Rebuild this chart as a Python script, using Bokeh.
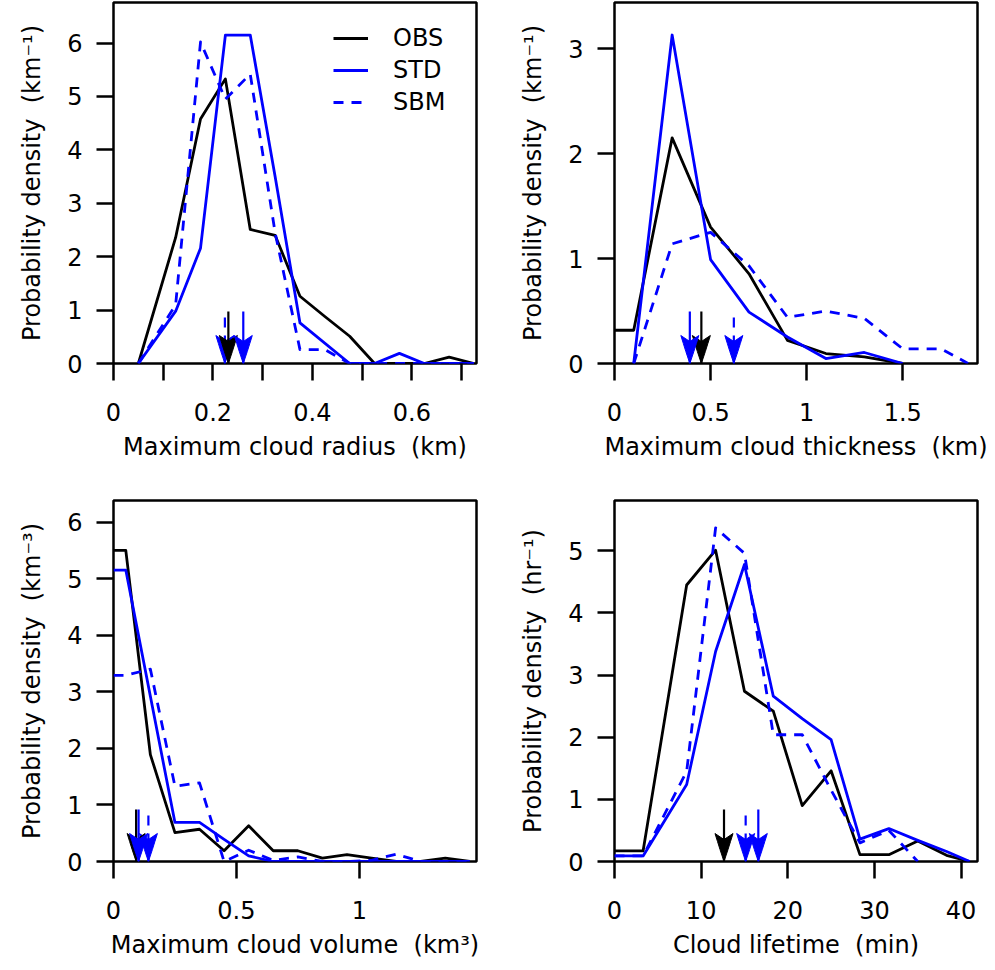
from bokeh.plotting import figure
from bokeh.layouts import column, row
from bokeh.models import Range1d, FixedTicker, Legend, LegendItem
from bokeh.embed import file_html
from bokeh.resources import INLINE

FONT = "DejaVu Sans"
BLUE = "#0000ff"
BLACK = "#000000"

# ---------------- Panel 1: maximum cloud radius ----------------
rad_obs_x = [0.05, 0.125, 0.175, 0.225, 0.275, 0.325, 0.375, 0.425, 0.475, 0.525, 0.625, 0.675, 0.725]
rad_obs_y = [0.0, 2.36, 4.58, 5.33, 2.51, 2.40, 1.26, 0.88, 0.51, 0.0, 0.0, 0.12, 0.0]
rad_std_x = [0.05, 0.125, 0.175, 0.225, 0.275, 0.325, 0.375, 0.475, 0.525, 0.575, 0.625, 0.725]
rad_std_y = [0.0, 0.98, 2.16, 6.15, 6.15, 3.5, 0.76, 0.0, 0.0, 0.19, 0.0, 0.0]
rad_sbm_x = [0.05, 0.125, 0.175, 0.225, 0.275, 0.325, 0.375, 0.425, 0.475, 0.725]
rad_sbm_y = [0.0, 1.1, 6.02, 4.95, 5.42, 2.45, 0.26, 0.26, 0.0, 0.0]
rad_mean = {"OBS": 0.231, "STD": 0.261, "SBM": 0.224}
rad_xticks = [0, 0.1, 0.2, 0.3, 0.4, 0.5, 0.6, 0.7]
rad_xlabels = ["0", "", "0.2", "", "0.4", "", "0.6", ""]
rad_yticks = [0, 1, 2, 3, 4, 5, 6]
rad_ylabels = ["0", "1", "2", "3", "4", "5", "6"]

# ---------------- Panel 2: maximum cloud thickness ----------------
thk_obs_x = [0.0, 0.1, 0.3, 0.5, 0.7, 0.9, 1.1, 1.3, 1.5]
thk_obs_y = [0.317, 0.317, 2.15, 1.30, 0.855, 0.22, 0.095, 0.063, 0.0]
thk_std_x = [0.1, 0.3, 0.5, 0.7, 0.9, 1.1, 1.3, 1.5]
thk_std_y = [0.0, 3.13, 0.99, 0.49, 0.253, 0.047, 0.105, 0.0]
thk_sbm_x = [0.1, 0.3, 0.5, 0.7, 0.9, 1.1, 1.3, 1.5, 1.7, 1.84]
thk_sbm_y = [0.0, 1.14, 1.25, 0.93, 0.44, 0.50, 0.43, 0.14, 0.14, 0.0]
thk_mean = {"OBS": 0.452, "STD": 0.392, "SBM": 0.621}
thk_xticks = [0, 0.5, 1, 1.5]
thk_xlabels = ["0", "0.5", "1", "1.5"]
thk_yticks = [0, 1, 2, 3]
thk_ylabels = ["0", "1", "2", "3"]

# ---------------- Panel 3: maximum cloud volume ----------------
vol_obs_x = [0.0, 0.05, 0.15, 0.25, 0.35, 0.45, 0.55, 0.65, 0.75, 0.85, 0.95, 1.05, 1.15, 1.25, 1.35, 1.45]
vol_obs_y = [5.5, 5.5, 1.89, 0.51, 0.57, 0.19, 0.63, 0.19, 0.19, 0.06, 0.12, 0.06, 0.0, 0.0, 0.06, 0.0]
vol_std_x = [0.0, 0.05, 0.15, 0.25, 0.35, 0.45, 0.55, 0.65, 1.45]
vol_std_y = [5.15, 5.15, 2.92, 0.69, 0.69, 0.39, 0.10, 0.0, 0.0]
vol_sbm_x = [0.0, 0.05, 0.15, 0.25, 0.35, 0.45, 0.55, 0.65, 0.75, 0.85, 0.95, 1.05, 1.15, 1.25, 1.45]
vol_sbm_y = [3.29, 3.29, 3.40, 1.33, 1.39, 0.0, 0.2, 0.02, 0.08, 0.0, 0.0, 0.02, 0.13, 0.0, 0.0]
vol_mean = {"OBS": 0.092, "STD": 0.102, "SBM": 0.142}
vol_xticks = [0, 0.5, 1]
vol_xlabels = ["0", "0.5", "1"]
vol_yticks = [0, 1, 2, 3, 4, 5, 6]
vol_ylabels = ["0", "1", "2", "3", "4", "5", "6"]

# ---------------- Panel 4: cloud lifetime ----------------
life_x = [0.0, 3.3, 8.33, 11.67, 15.0, 18.33, 21.67, 25.0, 28.33, 31.67, 35.0, 38.33, 41.0]
life_obs_y = [0.17, 0.17, 4.45, 5.01, 2.74, 2.42, 0.90, 1.46, 0.11, 0.11, 0.33, 0.10, 0.0]
life_std_y = [0.09, 0.09, 1.24, 3.38, 4.78, 2.66, 2.30, 1.96, 0.36, 0.53, 0.34, 0.16, 0.0]
life_sbm_x = [0.0, 3.3, 8.33, 11.67, 15.0, 18.33, 21.67, 25.0, 28.33, 31.67, 35.0]
life_sbm_y = [0.09, 0.09, 1.45, 5.37, 4.96, 2.04, 2.04, 1.15, 0.30, 0.50, 0.0]
life_mean = {"OBS": 12.64, "STD": 16.6, "SBM": 15.14}
life_xticks = [0, 10, 20, 30, 40]
life_xlabels = ["0", "10", "20", "30", "40"]
life_yticks = [0, 1, 2, 3, 4, 5]
life_ylabels = ["0", "1", "2", "3", "4", "5"]

# ---------------- styling / layout constants ----------------
FW, FH = 363, 361
LW = 2.8
BOX_LW = 2.5
DASH = "10 8"
SHAFT_PX = 52
HEAD_PX = [(0, 0), (4, 12), (6.5, 20), (9, 28), (0, 22), (-9, 28), (-6.5, 20), (-4, 12)]
STYLE = {"OBS": (BLACK, "solid"), "STD": (BLUE, "solid"), "SBM": (BLUE, DASH)}
GAP = " \u00a0"


def style_axis(ax, ticks, labels):
    ax.ticker = FixedTicker(ticks=ticks)
    ax.major_label_overrides = {t: l for t, l in zip(ticks, labels)}
    ax.minor_tick_line_color = None
    ax.major_tick_in = 0
    ax.major_tick_out = 17
    ax.major_tick_line_width = BOX_LW
    ax.major_tick_line_color = BLACK
    ax.axis_line_color = None
    ax.major_label_text_font = FONT
    ax.major_label_text_font_size = "24px"
    ax.major_label_text_color = BLACK
    ax.axis_label_text_font = FONT
    ax.axis_label_text_font_size = "24px"
    ax.axis_label_text_font_style = "normal"
    ax.axis_label_text_color = BLACK


def make_panel(xmax, ymax, series, means, xt, xl, yt, yl, xlabel, ylabel,
               borders, legend=False):
    left, right, top, bottom = borders
    p = figure(width=left + FW + right, height=top + FH + bottom,
               x_range=Range1d(0, xmax), y_range=Range1d(0, ymax),
               output_backend="svg", toolbar_location=None,
               min_border_left=left, min_border_right=right,
               min_border_top=top, min_border_bottom=bottom)
    p.grid.visible = False
    p.outline_line_color = BLACK
    p.outline_line_width = BOX_LW
    p.background_fill_color = "white"
    p.border_fill_color = "white"
    style_axis(p.xaxis[0], xt, xl)
    style_axis(p.yaxis[0], yt, yl)
    p.xaxis.major_label_standoff = 22
    p.xaxis.axis_label_standoff = 9
    p.yaxis.major_label_standoff = 14
    p.yaxis.axis_label_standoff = 18
    p.xaxis.axis_label = xlabel
    p.yaxis.axis_label = ylabel

    items = []
    for name, xs, ys in series:
        color, dash = STYLE[name]
        r = p.line(xs, ys, line_color=color, line_width=LW, line_dash=dash,
                   line_join="round")
        items.append(LegendItem(label=name, renderers=[r]))

    # mean arrows (fixed screen size converted to data units)
    pxx = xmax / FW
    pxy = ymax / FH
    for name in ["SBM", "OBS", "STD"]:
        xa = means[name]
        color, dash = STYLE[name]
        p.segment(x0=[xa], y0=[0], x1=[xa], y1=[SHAFT_PX * pxy],
                  line_color=color, line_width=2.2, line_dash=dash)
        hx = [xa + dx * pxx for dx, dy in HEAD_PX]
        hy = [dy * pxy for dx, dy in HEAD_PX]
        p.patch(hx, hy, fill_color=color, line_color=color, line_width=1)

    if legend:
        lg = Legend(items=items, location=(220, 247), orientation="vertical",
                    glyph_width=35, glyph_height=28, label_height=28,
                    label_standoff=25, spacing=4, padding=0, margin=0,
                    border_line_color=None, background_fill_alpha=0,
                    label_text_font=FONT, label_text_font_size="24px",
                    label_text_color=BLACK)
        p.add_layout(lg)
    return p


p1 = make_panel(0.730, 6.76,
                [("OBS", rad_obs_x, rad_obs_y), ("STD", rad_std_x, rad_std_y),
                 ("SBM", rad_sbm_x, rad_sbm_y)], rad_mean,
                rad_xticks, rad_xlabels, rad_yticks, rad_ylabels,
                "Maximum cloud radius" + GAP + "(km)",
                "Probability density" + GAP + "(km\u207b\u00b9)",
                (113, 24, 2, 135), legend=True)
p2 = make_panel(1.889, 3.44,
                [("OBS", thk_obs_x, thk_obs_y), ("STD", thk_std_x, thk_std_y),
                 ("SBM", thk_sbm_x, thk_sbm_y)], thk_mean,
                thk_xticks, thk_xlabels, thk_yticks, thk_ylabels,
                "Maximum cloud thickness" + GAP + "(km)",
                "Probability density" + GAP + "(km\u207b\u00b9)",
                (114, 18, 2, 135))
p3 = make_panel(1.477, 6.38,
                [("OBS", vol_obs_x, vol_obs_y), ("STD", vol_std_x, vol_std_y),
                 ("SBM", vol_sbm_x, vol_sbm_y)], vol_mean,
                vol_xticks, vol_xlabels, vol_yticks, vol_ylabels,
                "Maximum cloud volume" + GAP + "(km\u00b3)",
                "Probability density" + GAP + "(km\u207b\u00b3)",
                (113, 24, 2, 107))
p4 = make_panel(41.9, 5.81,
                [("OBS", life_x, life_obs_y), ("STD", life_x, life_std_y),
                 ("SBM", life_sbm_x, life_sbm_y)], life_mean,
                life_xticks, life_xlabels, life_yticks, life_ylabels,
                "Cloud lifetime" + GAP + "(min)",
                "Probability density" + GAP + "(hr\u207b\u00b9)",
                (114, 18, 2, 107))

layout = column(row(p1, p2), row(p3, p4))
open("out.html", "w").write(file_html(layout, INLINE))
